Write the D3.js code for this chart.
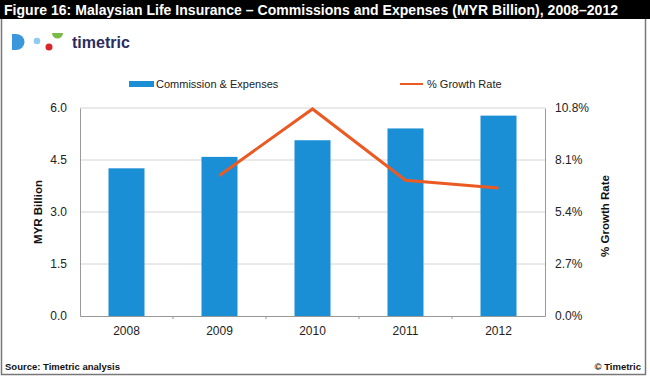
<!DOCTYPE html>
<html>
<head>
<meta charset="UTF-8">
<script src="https://d3js.org/d3.v7.min.js"></script>
<style>
  body { margin: 0; font-family: "Liberation Sans", Arial, sans-serif; background: #fff; }
  svg text { font-family: "Liberation Sans", Arial, sans-serif; }
</style>
</head>
<body>
<svg width="650" height="377"></svg>
<script>
// data
const years = ["2008", "2009", "2010", "2011", "2012"];
const commissions = [4.26, 4.59, 5.07, 5.41, 5.78];
const growthYears = ["2009", "2010", "2011", "2012"];
const growthRate = [7.3, 10.75, 7.05, 6.65];
const leftTicks = [0, 1.5, 3.0, 4.5, 6.0];
const rightTicks = [0, 2.7, 5.4, 8.1, 10.8];

const svg = d3.select("svg");
const W = 650, H = 377;

// frame + title bar
svg.append("rect").attr("x", 1.5).attr("y", 1.5).attr("width", W - 6).attr("height", H - 4)
  .attr("fill", "#fff").attr("stroke", "#777").attr("stroke-width", 1.5);
svg.append("rect").attr("x", 0).attr("y", 0).attr("width", W).attr("height", 19).attr("fill", "#000");
svg.append("text").attr("x", 4).attr("y", 15)
  .attr("fill", "#fff").attr("font-weight", "bold").attr("font-size", "14px")
  .attr("textLength", 614).attr("lengthAdjust", "spacing")
  .text("Figure 16: Malaysian  Life Insurance – Commissions and Expenses (MYR  Billion),  2008–2012");

// logo
const logo = svg.append("g");
logo.append("path").attr("d", "M12,34 h4 a8.5,8 0 0 1 0,16 h-4 z").attr("fill", "#3a97dc");
logo.append("circle").attr("cx", 37).attr("cy", 41).attr("r", 3.3).attr("fill", "#8fcbed");
logo.append("circle").attr("cx", 49).attr("cy", 47).attr("r", 3.5).attr("fill", "#d8262e");
logo.append("path").attr("d", "M52,33 h11 a5.5,5.5 0 0 1 -11,0 z").attr("fill", "#78bb48");
logo.append("text").attr("x", 72).attr("y", 48).attr("font-size", "16px")
  .attr("fill", "#2a2d5e").attr("font-weight", "bold").text("timetric");

// chart area
const pL = 80, pR = 545, pT = 108, pB = 316;

const xc = d3.scaleBand().domain(years).range([pL, pR]);
const y = d3.scaleLinear().domain([0, 6]).range([pB, pT]);
const y2 = d3.scaleLinear().domain([0, 10.8]).range([pB, pT]);

// grid
svg.append("g").selectAll("line").data(leftTicks.slice(1)).join("line")
  .attr("x1", pL).attr("x2", pR)
  .attr("y1", d => y(d)).attr("y2", d => y(d))
  .attr("stroke", "#d4d4d4").attr("stroke-width", 1);

// bars
svg.append("g").selectAll("rect").data(years).join("rect")
  .attr("x", d => xc(d) + xc.bandwidth() / 2 - 18)
  .attr("width", 36)
  .attr("y", (d, i) => y(commissions[i]))
  .attr("height", (d, i) => pB - y(commissions[i]))
  .attr("fill", "#1b8fd6");

// axes
const axL = svg.append("g").attr("transform", `translate(${pL},0)`)
  .call(d3.axisLeft(y).tickValues(leftTicks).tickFormat(d3.format(".1f")).tickSize(0).tickPadding(13));
const axR = svg.append("g").attr("transform", `translate(${pR},0)`)
  .call(d3.axisRight(y2).tickValues(rightTicks).tickFormat(d => d.toFixed(1) + "%").tickSize(0).tickPadding(10));
const axB = svg.append("g").attr("transform", `translate(0,${pB})`)
  .call(d3.axisBottom(xc).tickSize(0).tickPadding(10));
// category separators
svg.append("g").selectAll("line").data(years.slice(1)).join("line")
  .attr("x1", d => xc(d)).attr("x2", d => xc(d))
  .attr("y1", pB).attr("y2", pB + 3)
  .attr("stroke", "#999");

[axL, axR, axB].forEach(a => {
  a.select(".domain").attr("stroke", "#999");
  a.selectAll("text").attr("font-size", "12px").attr("fill", "#222")
    .attr("font-family", "'Liberation Sans', Arial, sans-serif");
});

// growth line
const line = d3.line().x((d, i) => xc(growthYears[i]) + xc.bandwidth() / 2).y(d => y2(d));
svg.append("path").datum(growthRate).attr("d", line)
  .attr("fill", "none").attr("stroke", "#ec5a24").attr("stroke-width", 3);

// axis titles
svg.append("text").attr("transform", `translate(42,${(pT + pB) / 2}) rotate(-90)`)
  .attr("text-anchor", "middle").attr("font-weight", "bold").attr("font-size", "11.5px")
  .attr("fill", "#111").text("MYR Billion");
svg.append("text").attr("transform", `translate(609,${(pT + pB) / 2 + 4}) rotate(-90)`)
  .attr("text-anchor", "middle").attr("font-weight", "bold").attr("font-size", "11.5px")
  .attr("fill", "#111").text("% Growth Rate");

// legend
svg.append("rect").attr("x", 129).attr("y", 81).attr("width", 25).attr("height", 6).attr("fill", "#1b8fd6");
svg.append("text").attr("x", 156).attr("y", 88).attr("font-size", "11px").attr("fill", "#222")
  .text("Commission & Expenses");
svg.append("line").attr("x1", 400).attr("x2", 423).attr("y1", 84).attr("y2", 84)
  .attr("stroke", "#ec5a24").attr("stroke-width", 2);
svg.append("text").attr("x", 427).attr("y", 88).attr("font-size", "11px").attr("fill", "#222")
  .text("% Growth Rate");

// footer
svg.append("text").attr("x", 5).attr("y", 370).attr("font-size", "9.5px").attr("font-weight", "bold")
  .attr("fill", "#111").text("Source: Timetric analysis");
svg.append("text").attr("x", 641).attr("y", 370).attr("text-anchor", "end").attr("font-size", "9.5px")
  .attr("font-weight", "bold").attr("fill", "#111").text("© Timetric");
</script>
</body>
</html>
